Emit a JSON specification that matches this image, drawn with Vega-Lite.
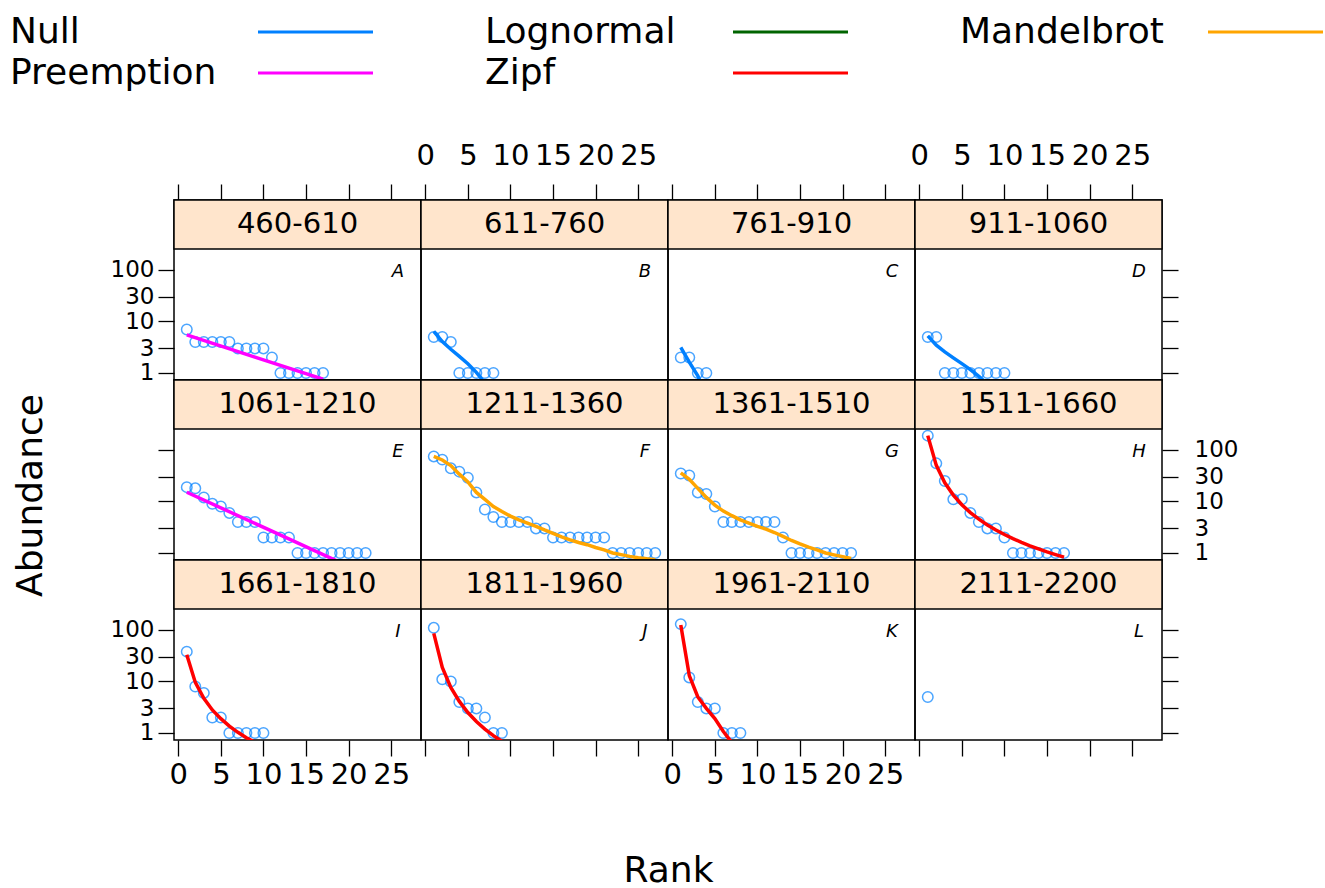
{
"$schema": "https://vega.github.io/schema/vega-lite/v6.json",
"padding": {"left": 10, "top": 14, "right": 0, "bottom": 0},
"background": "white",
"datasets": {
"panels": [
{"p":"A","range":"460-610"},{"p":"B","range":"611-760"},{"p":"C","range":"761-910"},{"p":"D","range":"911-1060"},
{"p":"E","range":"1061-1210"},{"p":"F","range":"1211-1360"},{"p":"G","range":"1361-1510"},{"p":"H","range":"1511-1660"},
{"p":"I","range":"1661-1810"},{"p":"J","range":"1811-1960"},{"p":"K","range":"1961-2110"},{"p":"L","range":"2111-2200"}],
"obs": [
{"p":"A","rank":1,"abundance":7},{"p":"A","rank":2,"abundance":4},{"p":"A","rank":3,"abundance":4},{"p":"A","rank":4,"abundance":4},{"p":"A","rank":5,"abundance":4},{"p":"A","rank":6,"abundance":4},{"p":"A","rank":7,"abundance":3},{"p":"A","rank":8,"abundance":3},{"p":"A","rank":9,"abundance":3},{"p":"A","rank":10,"abundance":3},{"p":"A","rank":11,"abundance":2},{"p":"A","rank":12,"abundance":1},{"p":"A","rank":13,"abundance":1},{"p":"A","rank":14,"abundance":1},{"p":"A","rank":15,"abundance":1},{"p":"A","rank":16,"abundance":1},{"p":"A","rank":17,"abundance":1},
{"p":"B","rank":1,"abundance":5},{"p":"B","rank":2,"abundance":5},{"p":"B","rank":3,"abundance":4},{"p":"B","rank":4,"abundance":1},{"p":"B","rank":5,"abundance":1},{"p":"B","rank":6,"abundance":1},{"p":"B","rank":7,"abundance":1},{"p":"B","rank":8,"abundance":1},
{"p":"C","rank":1,"abundance":2},{"p":"C","rank":2,"abundance":2},{"p":"C","rank":3,"abundance":1},{"p":"C","rank":4,"abundance":1},
{"p":"D","rank":1,"abundance":5},{"p":"D","rank":2,"abundance":5},{"p":"D","rank":3,"abundance":1},{"p":"D","rank":4,"abundance":1},{"p":"D","rank":5,"abundance":1},{"p":"D","rank":6,"abundance":1},{"p":"D","rank":7,"abundance":1},{"p":"D","rank":8,"abundance":1},{"p":"D","rank":9,"abundance":1},{"p":"D","rank":10,"abundance":1},
{"p":"E","rank":1,"abundance":19},{"p":"E","rank":2,"abundance":18},{"p":"E","rank":3,"abundance":12},{"p":"E","rank":4,"abundance":9},{"p":"E","rank":5,"abundance":8},{"p":"E","rank":6,"abundance":6},{"p":"E","rank":7,"abundance":4},{"p":"E","rank":8,"abundance":4},{"p":"E","rank":9,"abundance":4},{"p":"E","rank":10,"abundance":2},{"p":"E","rank":11,"abundance":2},{"p":"E","rank":12,"abundance":2},{"p":"E","rank":13,"abundance":2},{"p":"E","rank":14,"abundance":1},{"p":"E","rank":15,"abundance":1},{"p":"E","rank":16,"abundance":1},{"p":"E","rank":17,"abundance":1},{"p":"E","rank":18,"abundance":1},{"p":"E","rank":19,"abundance":1},{"p":"E","rank":20,"abundance":1},{"p":"E","rank":21,"abundance":1},{"p":"E","rank":22,"abundance":1},
{"p":"F","rank":1,"abundance":75},{"p":"F","rank":2,"abundance":65},{"p":"F","rank":3,"abundance":44},{"p":"F","rank":4,"abundance":38},{"p":"F","rank":5,"abundance":29},{"p":"F","rank":6,"abundance":15},{"p":"F","rank":7,"abundance":7},{"p":"F","rank":8,"abundance":5},{"p":"F","rank":9,"abundance":4},{"p":"F","rank":10,"abundance":4},{"p":"F","rank":11,"abundance":4},{"p":"F","rank":12,"abundance":4},{"p":"F","rank":13,"abundance":3},{"p":"F","rank":14,"abundance":3},{"p":"F","rank":15,"abundance":2},{"p":"F","rank":16,"abundance":2},{"p":"F","rank":17,"abundance":2},{"p":"F","rank":18,"abundance":2},{"p":"F","rank":19,"abundance":2},{"p":"F","rank":20,"abundance":2},{"p":"F","rank":21,"abundance":2},{"p":"F","rank":22,"abundance":1},{"p":"F","rank":23,"abundance":1},{"p":"F","rank":24,"abundance":1},{"p":"F","rank":25,"abundance":1},{"p":"F","rank":26,"abundance":1},{"p":"F","rank":27,"abundance":1},
{"p":"G","rank":1,"abundance":35},{"p":"G","rank":2,"abundance":32},{"p":"G","rank":3,"abundance":15},{"p":"G","rank":4,"abundance":14},{"p":"G","rank":5,"abundance":8},{"p":"G","rank":6,"abundance":4},{"p":"G","rank":7,"abundance":4},{"p":"G","rank":8,"abundance":4},{"p":"G","rank":9,"abundance":4},{"p":"G","rank":10,"abundance":4},{"p":"G","rank":11,"abundance":4},{"p":"G","rank":12,"abundance":4},{"p":"G","rank":13,"abundance":2},{"p":"G","rank":14,"abundance":1},{"p":"G","rank":15,"abundance":1},{"p":"G","rank":16,"abundance":1},{"p":"G","rank":17,"abundance":1},{"p":"G","rank":18,"abundance":1},{"p":"G","rank":19,"abundance":1},{"p":"G","rank":20,"abundance":1},{"p":"G","rank":21,"abundance":1},
{"p":"H","rank":1,"abundance":190},{"p":"H","rank":2,"abundance":55},{"p":"H","rank":3,"abundance":25},{"p":"H","rank":4,"abundance":11},{"p":"H","rank":5,"abundance":11},{"p":"H","rank":6,"abundance":6},{"p":"H","rank":7,"abundance":4},{"p":"H","rank":8,"abundance":3},{"p":"H","rank":9,"abundance":3},{"p":"H","rank":10,"abundance":2},{"p":"H","rank":11,"abundance":1},{"p":"H","rank":12,"abundance":1},{"p":"H","rank":13,"abundance":1},{"p":"H","rank":14,"abundance":1},{"p":"H","rank":15,"abundance":1},{"p":"H","rank":16,"abundance":1},{"p":"H","rank":17,"abundance":1},
{"p":"I","rank":1,"abundance":38},{"p":"I","rank":2,"abundance":8},{"p":"I","rank":3,"abundance":6},{"p":"I","rank":4,"abundance":2},{"p":"I","rank":5,"abundance":2},{"p":"I","rank":6,"abundance":1},{"p":"I","rank":7,"abundance":1},{"p":"I","rank":8,"abundance":1},{"p":"I","rank":9,"abundance":1},{"p":"I","rank":10,"abundance":1},
{"p":"J","rank":1,"abundance":110},{"p":"J","rank":2,"abundance":11},{"p":"J","rank":3,"abundance":10},{"p":"J","rank":4,"abundance":4},{"p":"J","rank":5,"abundance":3},{"p":"J","rank":6,"abundance":3},{"p":"J","rank":7,"abundance":2},{"p":"J","rank":8,"abundance":1},{"p":"J","rank":9,"abundance":1},
{"p":"K","rank":1,"abundance":130},{"p":"K","rank":2,"abundance":12},{"p":"K","rank":3,"abundance":4},{"p":"K","rank":4,"abundance":3},{"p":"K","rank":5,"abundance":3},{"p":"K","rank":6,"abundance":1},{"p":"K","rank":7,"abundance":1},{"p":"K","rank":8,"abundance":1},
{"p":"L","rank":1,"abundance":5}],
"fit": [
{"p":"A","model":"Preemption","rank":1,"fitted":5.5},{"p":"A","model":"Preemption","rank":9,"fitted":2.04},{"p":"A","model":"Preemption","rank":17,"fitted":0.76},
{"p":"B","model":"Null","rank":1,"fitted":6.45},{"p":"B","model":"Null","rank":2,"fitted":4.08},{"p":"B","model":"Null","rank":3,"fitted":2.89},{"p":"B","model":"Null","rank":4,"fitted":2.1},{"p":"B","model":"Null","rank":5,"fitted":1.51},{"p":"B","model":"Null","rank":6,"fitted":1.03},{"p":"B","model":"Null","rank":7,"fitted":0.64},{"p":"B","model":"Null","rank":8,"fitted":0.3},
{"p":"C","model":"Null","rank":1,"fitted":3.13},{"p":"C","model":"Null","rank":2,"fitted":1.63},{"p":"C","model":"Null","rank":3,"fitted":0.88},{"p":"C","model":"Null","rank":4,"fitted":0.38},
{"p":"D","model":"Null","rank":1,"fitted":5.27},{"p":"D","model":"Null","rank":2,"fitted":3.47},{"p":"D","model":"Null","rank":3,"fitted":2.57},{"p":"D","model":"Null","rank":4,"fitted":1.97},{"p":"D","model":"Null","rank":5,"fitted":1.52},{"p":"D","model":"Null","rank":6,"fitted":1.16},{"p":"D","model":"Null","rank":7,"fitted":0.86},{"p":"D","model":"Null","rank":8,"fitted":0.61},{"p":"D","model":"Null","rank":9,"fitted":0.38},{"p":"D","model":"Null","rank":10,"fitted":0.18},
{"p":"E","model":"Preemption","rank":1,"fitted":15.1},{"p":"E","model":"Preemption","rank":11,"fitted":2.65},{"p":"E","model":"Preemption","rank":22,"fitted":0.39},
{"p":"F","model":"Mandelbrot","rank":1,"fitted":75},{"p":"F","model":"Mandelbrot","rank":2,"fitted":64},{"p":"F","model":"Mandelbrot","rank":3,"fitted":50},{"p":"F","model":"Mandelbrot","rank":4,"fitted":34},{"p":"F","model":"Mandelbrot","rank":5,"fitted":24},{"p":"F","model":"Mandelbrot","rank":6,"fitted":15},{"p":"F","model":"Mandelbrot","rank":7,"fitted":11},{"p":"F","model":"Mandelbrot","rank":8,"fitted":8},{"p":"F","model":"Mandelbrot","rank":9,"fitted":6.4},{"p":"F","model":"Mandelbrot","rank":10,"fitted":5.2},{"p":"F","model":"Mandelbrot","rank":11,"fitted":4.4},{"p":"F","model":"Mandelbrot","rank":12,"fitted":3.8},{"p":"F","model":"Mandelbrot","rank":13,"fitted":3.3},{"p":"F","model":"Mandelbrot","rank":14,"fitted":2.8},{"p":"F","model":"Mandelbrot","rank":15,"fitted":2.4},{"p":"F","model":"Mandelbrot","rank":16,"fitted":2.05},{"p":"F","model":"Mandelbrot","rank":17,"fitted":1.8},{"p":"F","model":"Mandelbrot","rank":18,"fitted":1.6},{"p":"F","model":"Mandelbrot","rank":19,"fitted":1.45},{"p":"F","model":"Mandelbrot","rank":20,"fitted":1.28},{"p":"F","model":"Mandelbrot","rank":21,"fitted":1.15},{"p":"F","model":"Mandelbrot","rank":22,"fitted":1.0},{"p":"F","model":"Mandelbrot","rank":23,"fitted":0.93},{"p":"F","model":"Mandelbrot","rank":24,"fitted":0.86},{"p":"F","model":"Mandelbrot","rank":25,"fitted":0.81},{"p":"F","model":"Mandelbrot","rank":26,"fitted":0.77},{"p":"F","model":"Mandelbrot","rank":27,"fitted":0.74},
{"p":"G","model":"Mandelbrot","rank":1,"fitted":36},{"p":"G","model":"Mandelbrot","rank":2,"fitted":27},{"p":"G","model":"Mandelbrot","rank":3,"fitted":18},{"p":"G","model":"Mandelbrot","rank":4,"fitted":12},{"p":"G","model":"Mandelbrot","rank":5,"fitted":8.5},{"p":"G","model":"Mandelbrot","rank":6,"fitted":6.5},{"p":"G","model":"Mandelbrot","rank":7,"fitted":5.3},{"p":"G","model":"Mandelbrot","rank":8,"fitted":4.4},{"p":"G","model":"Mandelbrot","rank":9,"fitted":3.8},{"p":"G","model":"Mandelbrot","rank":10,"fitted":3.3},{"p":"G","model":"Mandelbrot","rank":11,"fitted":2.9},{"p":"G","model":"Mandelbrot","rank":12,"fitted":2.5},{"p":"G","model":"Mandelbrot","rank":13,"fitted":2.1},{"p":"G","model":"Mandelbrot","rank":14,"fitted":1.75},{"p":"G","model":"Mandelbrot","rank":15,"fitted":1.5},{"p":"G","model":"Mandelbrot","rank":16,"fitted":1.3},{"p":"G","model":"Mandelbrot","rank":17,"fitted":1.15},{"p":"G","model":"Mandelbrot","rank":18,"fitted":1.0},{"p":"G","model":"Mandelbrot","rank":19,"fitted":0.92},{"p":"G","model":"Mandelbrot","rank":20,"fitted":0.85},{"p":"G","model":"Mandelbrot","rank":21,"fitted":0.78},
{"p":"H","model":"Zipf","rank":1,"fitted":190},{"p":"H","model":"Zipf","rank":2,"fitted":50.3},{"p":"H","model":"Zipf","rank":3,"fitted":23.1},{"p":"H","model":"Zipf","rank":4,"fitted":13.3},{"p":"H","model":"Zipf","rank":5,"fitted":8.64},{"p":"H","model":"Zipf","rank":6,"fitted":6.09},{"p":"H","model":"Zipf","rank":7,"fitted":4.53},{"p":"H","model":"Zipf","rank":8,"fitted":3.51},{"p":"H","model":"Zipf","rank":9,"fitted":2.79},{"p":"H","model":"Zipf","rank":10,"fitted":2.28},{"p":"H","model":"Zipf","rank":11,"fitted":1.9},{"p":"H","model":"Zipf","rank":12,"fitted":1.61},{"p":"H","model":"Zipf","rank":13,"fitted":1.38},{"p":"H","model":"Zipf","rank":14,"fitted":1.2},{"p":"H","model":"Zipf","rank":15,"fitted":1.05},{"p":"H","model":"Zipf","rank":16,"fitted":0.93},{"p":"H","model":"Zipf","rank":17,"fitted":0.83},
{"p":"I","model":"Zipf","rank":1,"fitted":33},{"p":"I","model":"Zipf","rank":2,"fitted":9.6},{"p":"I","model":"Zipf","rank":3,"fitted":4.7},{"p":"I","model":"Zipf","rank":4,"fitted":2.8},{"p":"I","model":"Zipf","rank":5,"fitted":1.9},{"p":"I","model":"Zipf","rank":6,"fitted":1.36},{"p":"I","model":"Zipf","rank":7,"fitted":1.03},{"p":"I","model":"Zipf","rank":8,"fitted":0.81},{"p":"I","model":"Zipf","rank":9,"fitted":0.66},{"p":"I","model":"Zipf","rank":10,"fitted":0.55},
{"p":"J","model":"Zipf","rank":1,"fitted":86},{"p":"J","model":"Zipf","rank":2,"fitted":18.7},{"p":"J","model":"Zipf","rank":3,"fitted":7.7},{"p":"J","model":"Zipf","rank":4,"fitted":4.1},{"p":"J","model":"Zipf","rank":5,"fitted":2.5},{"p":"J","model":"Zipf","rank":6,"fitted":1.67},{"p":"J","model":"Zipf","rank":7,"fitted":1.19},{"p":"J","model":"Zipf","rank":8,"fitted":0.89},{"p":"J","model":"Zipf","rank":9,"fitted":0.69},
{"p":"K","model":"Zipf","rank":1,"fitted":125},{"p":"K","model":"Zipf","rank":2,"fitted":13},{"p":"K","model":"Zipf","rank":3,"fitted":5},{"p":"K","model":"Zipf","rank":4,"fitted":3},{"p":"K","model":"Zipf","rank":5,"fitted":1.9},{"p":"K","model":"Zipf","rank":6,"fitted":1.07},{"p":"K","model":"Zipf","rank":7,"fitted":0.65},{"p":"K","model":"Zipf","rank":8,"fitted":0.45}]
},
"columns": 4,
"spacing": 0,
"bounds": "flush",
"resolve": {"scale": {"x": "independent", "y": "independent", "color": "shared"}, "axis": {"x": "independent", "y": "independent"}, "legend": {"color": "shared"}},
"concat": [
{"width":247,"height":180,"layer":[
 {"data":{"name":"obs"},"transform":[{"filter":"datum.p==='A'"}],"mark":{"type":"point","shape":"circle","filled":false,"color":"#0080ff","size":110,"strokeWidth":1.5,"clip":true},"encoding":{"x":{"field":"rank","type":"quantitative","scale":{"type":"linear","domain":[-0.5,28.5],"nice":false,"zero":false},"axis":{"orient":"top","values":[0,5,10,15,20,25],"labels":false,"title":null}},"y":{"field":"abundance","type":"quantitative","scale":{"type":"log","domain":[0.731,2286],"nice":false},"axis":{"orient":"left","values":[1,3,10,30,100],"format":"d","title":null,"labelPadding":4}}}},
 {"data":{"name":"panels"},"transform":[{"filter":"datum.p==='A'"}],"mark":{"type":"rect","fill":"#ffe5cc","stroke":"black","strokeWidth":1.5},"encoding":{"x":{"value":0},"x2":{"value":"width"},"y":{"datum":256,"type":"quantitative"},"y2":{"datum":2286}}},
 {"data":{"name":"panels"},"transform":[{"filter":"datum.p==='A'"}],"mark":{"type":"text","font":"DejaVu Sans","fontSize":29,"color":"black"},"encoding":{"x":{"datum":14,"type":"quantitative"},"y":{"datum":765,"type":"quantitative"},"text":{"field":"range"}}},
 {"data":{"name":"panels"},"transform":[{"filter":"datum.p==='A'"}],"mark":{"type":"text","font":"DejaVu Sans","fontSize":18,"fontStyle":"italic","color":"black"},"encoding":{"x":{"datum":25.8,"type":"quantitative"},"y":{"datum":92,"type":"quantitative"},"text":{"field":"p"}}},
 {"data":{"name":"fit"},"transform":[{"filter":"datum.p==='A'"}],"mark":{"type":"line","strokeWidth":3.5,"clip":true},"encoding":{"x":{"field":"rank","type":"quantitative"},"y":{"field":"fitted","type":"quantitative"},"color":{"field":"model","type":"nominal","scale":{"domain":["Null","Preemption","Lognormal","Zipf","Mandelbrot"],"range":["#0080ff","#ff00ff","#006400","#ff0000","#ffa500"]},"legend":{"title":null,"symbolType":"M-5,0H5"}}}}
]},
{"width":247,"height":180,"layer":[
 {"data":{"name":"obs"},"transform":[{"filter":"datum.p==='B'"}],"mark":{"type":"point","shape":"circle","filled":false,"color":"#0080ff","size":110,"strokeWidth":1.5,"clip":true},"encoding":{"x":{"field":"rank","type":"quantitative","scale":{"type":"linear","domain":[-0.5,28.5],"nice":false,"zero":false},"axis":{"orient":"top","values":[0,5,10,15,20,25],"title":null,"labelPadding":14}},"y":{"field":"abundance","type":"quantitative","scale":{"type":"log","domain":[0.731,2286],"nice":false},"axis":null}}},
 {"data":{"name":"panels"},"transform":[{"filter":"datum.p==='B'"}],"mark":{"type":"rect","fill":"#ffe5cc","stroke":"black","strokeWidth":1.5},"encoding":{"x":{"value":0},"x2":{"value":"width"},"y":{"datum":256,"type":"quantitative"},"y2":{"datum":2286}}},
 {"data":{"name":"panels"},"transform":[{"filter":"datum.p==='B'"}],"mark":{"type":"text","font":"DejaVu Sans","fontSize":29,"color":"black"},"encoding":{"x":{"datum":14,"type":"quantitative"},"y":{"datum":765,"type":"quantitative"},"text":{"field":"range"}}},
 {"data":{"name":"panels"},"transform":[{"filter":"datum.p==='B'"}],"mark":{"type":"text","font":"DejaVu Sans","fontSize":18,"fontStyle":"italic","color":"black"},"encoding":{"x":{"datum":25.8,"type":"quantitative"},"y":{"datum":92,"type":"quantitative"},"text":{"field":"p"}}},
 {"data":{"name":"fit"},"transform":[{"filter":"datum.p==='B'"}],"mark":{"type":"line","strokeWidth":3.5,"clip":true},"encoding":{"x":{"field":"rank","type":"quantitative"},"y":{"field":"fitted","type":"quantitative"},"color":{"field":"model","type":"nominal","scale":{"domain":["Null","Preemption","Lognormal","Zipf","Mandelbrot"],"range":["#0080ff","#ff00ff","#006400","#ff0000","#ffa500"]},"legend":{"title":null,"symbolType":"M-5,0H5"}}}}
]},
{"width":247,"height":180,"layer":[
 {"data":{"name":"obs"},"transform":[{"filter":"datum.p==='C'"}],"mark":{"type":"point","shape":"circle","filled":false,"color":"#0080ff","size":110,"strokeWidth":1.5,"clip":true},"encoding":{"x":{"field":"rank","type":"quantitative","scale":{"type":"linear","domain":[-0.5,28.5],"nice":false,"zero":false},"axis":{"orient":"top","values":[0,5,10,15,20,25],"labels":false,"title":null}},"y":{"field":"abundance","type":"quantitative","scale":{"type":"log","domain":[0.731,2286],"nice":false},"axis":null}}},
 {"data":{"name":"panels"},"transform":[{"filter":"datum.p==='C'"}],"mark":{"type":"rect","fill":"#ffe5cc","stroke":"black","strokeWidth":1.5},"encoding":{"x":{"value":0},"x2":{"value":"width"},"y":{"datum":256,"type":"quantitative"},"y2":{"datum":2286}}},
 {"data":{"name":"panels"},"transform":[{"filter":"datum.p==='C'"}],"mark":{"type":"text","font":"DejaVu Sans","fontSize":29,"color":"black"},"encoding":{"x":{"datum":14,"type":"quantitative"},"y":{"datum":765,"type":"quantitative"},"text":{"field":"range"}}},
 {"data":{"name":"panels"},"transform":[{"filter":"datum.p==='C'"}],"mark":{"type":"text","font":"DejaVu Sans","fontSize":18,"fontStyle":"italic","color":"black"},"encoding":{"x":{"datum":25.8,"type":"quantitative"},"y":{"datum":92,"type":"quantitative"},"text":{"field":"p"}}},
 {"data":{"name":"fit"},"transform":[{"filter":"datum.p==='C'"}],"mark":{"type":"line","strokeWidth":3.5,"clip":true},"encoding":{"x":{"field":"rank","type":"quantitative"},"y":{"field":"fitted","type":"quantitative"},"color":{"field":"model","type":"nominal","scale":{"domain":["Null","Preemption","Lognormal","Zipf","Mandelbrot"],"range":["#0080ff","#ff00ff","#006400","#ff0000","#ffa500"]},"legend":{"title":null,"symbolType":"M-5,0H5"}}}}
]},
{"width":247,"height":180,"layer":[
 {"data":{"name":"obs"},"transform":[{"filter":"datum.p==='D'"}],"mark":{"type":"point","shape":"circle","filled":false,"color":"#0080ff","size":110,"strokeWidth":1.5,"clip":true},"encoding":{"x":{"field":"rank","type":"quantitative","scale":{"type":"linear","domain":[-0.5,28.5],"nice":false,"zero":false},"axis":{"orient":"top","values":[0,5,10,15,20,25],"title":null,"labelPadding":14}},"y":{"field":"abundance","type":"quantitative","scale":{"type":"log","domain":[0.731,2286],"nice":false},"axis":{"orient":"right","values":[1,3,10,30,100],"labels":false,"title":null}}}},
 {"data":{"name":"panels"},"transform":[{"filter":"datum.p==='D'"}],"mark":{"type":"rect","fill":"#ffe5cc","stroke":"black","strokeWidth":1.5},"encoding":{"x":{"value":0},"x2":{"value":"width"},"y":{"datum":256,"type":"quantitative"},"y2":{"datum":2286}}},
 {"data":{"name":"panels"},"transform":[{"filter":"datum.p==='D'"}],"mark":{"type":"text","font":"DejaVu Sans","fontSize":29,"color":"black"},"encoding":{"x":{"datum":14,"type":"quantitative"},"y":{"datum":765,"type":"quantitative"},"text":{"field":"range"}}},
 {"data":{"name":"panels"},"transform":[{"filter":"datum.p==='D'"}],"mark":{"type":"text","font":"DejaVu Sans","fontSize":18,"fontStyle":"italic","color":"black"},"encoding":{"x":{"datum":25.8,"type":"quantitative"},"y":{"datum":92,"type":"quantitative"},"text":{"field":"p"}}},
 {"data":{"name":"fit"},"transform":[{"filter":"datum.p==='D'"}],"mark":{"type":"line","strokeWidth":3.5,"clip":true},"encoding":{"x":{"field":"rank","type":"quantitative"},"y":{"field":"fitted","type":"quantitative"},"color":{"field":"model","type":"nominal","scale":{"domain":["Null","Preemption","Lognormal","Zipf","Mandelbrot"],"range":["#0080ff","#ff00ff","#006400","#ff0000","#ffa500"]},"legend":{"title":null,"symbolType":"M-5,0H5"}}}}
]},
{"width":247,"height":180,"layer":[
 {"data":{"name":"obs"},"transform":[{"filter":"datum.p==='E'"}],"mark":{"type":"point","shape":"circle","filled":false,"color":"#0080ff","size":110,"strokeWidth":1.5,"clip":true},"encoding":{"x":{"field":"rank","type":"quantitative","scale":{"type":"linear","domain":[-0.5,28.5],"nice":false,"zero":false},"axis":null},"y":{"field":"abundance","type":"quantitative","scale":{"type":"log","domain":[0.731,2286],"nice":false},"axis":{"orient":"left","values":[1,3,10,30,100],"labels":false,"title":"Abundance","titleX":-144,"titleY":115,"titleAngle":270,"titleBaseline":"middle","titleAlign":"center"}}}},
 {"data":{"name":"panels"},"transform":[{"filter":"datum.p==='E'"}],"mark":{"type":"rect","fill":"#ffe5cc","stroke":"black","strokeWidth":1.5},"encoding":{"x":{"value":0},"x2":{"value":"width"},"y":{"datum":256,"type":"quantitative"},"y2":{"datum":2286}}},
 {"data":{"name":"panels"},"transform":[{"filter":"datum.p==='E'"}],"mark":{"type":"text","font":"DejaVu Sans","fontSize":29,"color":"black"},"encoding":{"x":{"datum":14,"type":"quantitative"},"y":{"datum":765,"type":"quantitative"},"text":{"field":"range"}}},
 {"data":{"name":"panels"},"transform":[{"filter":"datum.p==='E'"}],"mark":{"type":"text","font":"DejaVu Sans","fontSize":18,"fontStyle":"italic","color":"black"},"encoding":{"x":{"datum":25.8,"type":"quantitative"},"y":{"datum":92,"type":"quantitative"},"text":{"field":"p"}}},
 {"data":{"name":"fit"},"transform":[{"filter":"datum.p==='E'"}],"mark":{"type":"line","strokeWidth":3.5,"clip":true},"encoding":{"x":{"field":"rank","type":"quantitative"},"y":{"field":"fitted","type":"quantitative"},"color":{"field":"model","type":"nominal","scale":{"domain":["Null","Preemption","Lognormal","Zipf","Mandelbrot"],"range":["#0080ff","#ff00ff","#006400","#ff0000","#ffa500"]},"legend":{"title":null,"symbolType":"M-5,0H5"}}}}
]},
{"width":247,"height":180,"layer":[
 {"data":{"name":"obs"},"transform":[{"filter":"datum.p==='F'"}],"mark":{"type":"point","shape":"circle","filled":false,"color":"#0080ff","size":110,"strokeWidth":1.5,"clip":true},"encoding":{"x":{"field":"rank","type":"quantitative","scale":{"type":"linear","domain":[-0.5,28.5],"nice":false,"zero":false},"axis":null},"y":{"field":"abundance","type":"quantitative","scale":{"type":"log","domain":[0.731,2286],"nice":false},"axis":null}}},
 {"data":{"name":"panels"},"transform":[{"filter":"datum.p==='F'"}],"mark":{"type":"rect","fill":"#ffe5cc","stroke":"black","strokeWidth":1.5},"encoding":{"x":{"value":0},"x2":{"value":"width"},"y":{"datum":256,"type":"quantitative"},"y2":{"datum":2286}}},
 {"data":{"name":"panels"},"transform":[{"filter":"datum.p==='F'"}],"mark":{"type":"text","font":"DejaVu Sans","fontSize":29,"color":"black"},"encoding":{"x":{"datum":14,"type":"quantitative"},"y":{"datum":765,"type":"quantitative"},"text":{"field":"range"}}},
 {"data":{"name":"panels"},"transform":[{"filter":"datum.p==='F'"}],"mark":{"type":"text","font":"DejaVu Sans","fontSize":18,"fontStyle":"italic","color":"black"},"encoding":{"x":{"datum":25.8,"type":"quantitative"},"y":{"datum":92,"type":"quantitative"},"text":{"field":"p"}}},
 {"data":{"name":"fit"},"transform":[{"filter":"datum.p==='F'"}],"mark":{"type":"line","strokeWidth":3.5,"clip":true},"encoding":{"x":{"field":"rank","type":"quantitative"},"y":{"field":"fitted","type":"quantitative"},"color":{"field":"model","type":"nominal","scale":{"domain":["Null","Preemption","Lognormal","Zipf","Mandelbrot"],"range":["#0080ff","#ff00ff","#006400","#ff0000","#ffa500"]},"legend":{"title":null,"symbolType":"M-5,0H5"}}}}
]},
{"width":247,"height":180,"layer":[
 {"data":{"name":"obs"},"transform":[{"filter":"datum.p==='G'"}],"mark":{"type":"point","shape":"circle","filled":false,"color":"#0080ff","size":110,"strokeWidth":1.5,"clip":true},"encoding":{"x":{"field":"rank","type":"quantitative","scale":{"type":"linear","domain":[-0.5,28.5],"nice":false,"zero":false},"axis":null},"y":{"field":"abundance","type":"quantitative","scale":{"type":"log","domain":[0.731,2286],"nice":false},"axis":null}}},
 {"data":{"name":"panels"},"transform":[{"filter":"datum.p==='G'"}],"mark":{"type":"rect","fill":"#ffe5cc","stroke":"black","strokeWidth":1.5},"encoding":{"x":{"value":0},"x2":{"value":"width"},"y":{"datum":256,"type":"quantitative"},"y2":{"datum":2286}}},
 {"data":{"name":"panels"},"transform":[{"filter":"datum.p==='G'"}],"mark":{"type":"text","font":"DejaVu Sans","fontSize":29,"color":"black"},"encoding":{"x":{"datum":14,"type":"quantitative"},"y":{"datum":765,"type":"quantitative"},"text":{"field":"range"}}},
 {"data":{"name":"panels"},"transform":[{"filter":"datum.p==='G'"}],"mark":{"type":"text","font":"DejaVu Sans","fontSize":18,"fontStyle":"italic","color":"black"},"encoding":{"x":{"datum":25.8,"type":"quantitative"},"y":{"datum":92,"type":"quantitative"},"text":{"field":"p"}}},
 {"data":{"name":"fit"},"transform":[{"filter":"datum.p==='G'"}],"mark":{"type":"line","strokeWidth":3.5,"clip":true},"encoding":{"x":{"field":"rank","type":"quantitative"},"y":{"field":"fitted","type":"quantitative"},"color":{"field":"model","type":"nominal","scale":{"domain":["Null","Preemption","Lognormal","Zipf","Mandelbrot"],"range":["#0080ff","#ff00ff","#006400","#ff0000","#ffa500"]},"legend":{"title":null,"symbolType":"M-5,0H5"}}}}
]},
{"width":247,"height":180,"layer":[
 {"data":{"name":"obs"},"transform":[{"filter":"datum.p==='H'"}],"mark":{"type":"point","shape":"circle","filled":false,"color":"#0080ff","size":110,"strokeWidth":1.5,"clip":true},"encoding":{"x":{"field":"rank","type":"quantitative","scale":{"type":"linear","domain":[-0.5,28.5],"nice":false,"zero":false},"axis":null},"y":{"field":"abundance","type":"quantitative","scale":{"type":"log","domain":[0.731,2286],"nice":false},"axis":{"orient":"right","values":[1,3,10,30,100],"format":"d","title":null,"labelPadding":16}}}},
 {"data":{"name":"panels"},"transform":[{"filter":"datum.p==='H'"}],"mark":{"type":"rect","fill":"#ffe5cc","stroke":"black","strokeWidth":1.5},"encoding":{"x":{"value":0},"x2":{"value":"width"},"y":{"datum":256,"type":"quantitative"},"y2":{"datum":2286}}},
 {"data":{"name":"panels"},"transform":[{"filter":"datum.p==='H'"}],"mark":{"type":"text","font":"DejaVu Sans","fontSize":29,"color":"black"},"encoding":{"x":{"datum":14,"type":"quantitative"},"y":{"datum":765,"type":"quantitative"},"text":{"field":"range"}}},
 {"data":{"name":"panels"},"transform":[{"filter":"datum.p==='H'"}],"mark":{"type":"text","font":"DejaVu Sans","fontSize":18,"fontStyle":"italic","color":"black"},"encoding":{"x":{"datum":25.8,"type":"quantitative"},"y":{"datum":92,"type":"quantitative"},"text":{"field":"p"}}},
 {"data":{"name":"fit"},"transform":[{"filter":"datum.p==='H'"}],"mark":{"type":"line","strokeWidth":3.5,"clip":true},"encoding":{"x":{"field":"rank","type":"quantitative"},"y":{"field":"fitted","type":"quantitative"},"color":{"field":"model","type":"nominal","scale":{"domain":["Null","Preemption","Lognormal","Zipf","Mandelbrot"],"range":["#0080ff","#ff00ff","#006400","#ff0000","#ffa500"]},"legend":{"title":null,"symbolType":"M-5,0H5"}}}}
]},
{"width":247,"height":180,"layer":[
 {"data":{"name":"obs"},"transform":[{"filter":"datum.p==='I'"}],"mark":{"type":"point","shape":"circle","filled":false,"color":"#0080ff","size":110,"strokeWidth":1.5,"clip":true},"encoding":{"x":{"field":"rank","type":"quantitative","scale":{"type":"linear","domain":[-0.5,28.5],"nice":false,"zero":false},"axis":{"orient":"bottom","values":[0,5,10,15,20,25],"title":null,"labelPadding":4}},"y":{"field":"abundance","type":"quantitative","scale":{"type":"log","domain":[0.731,2286],"nice":false},"axis":{"orient":"left","values":[1,3,10,30,100],"format":"d","title":null,"labelPadding":4}}}},
 {"data":{"name":"panels"},"transform":[{"filter":"datum.p==='I'"}],"mark":{"type":"rect","fill":"#ffe5cc","stroke":"black","strokeWidth":1.5},"encoding":{"x":{"value":0},"x2":{"value":"width"},"y":{"datum":256,"type":"quantitative"},"y2":{"datum":2286}}},
 {"data":{"name":"panels"},"transform":[{"filter":"datum.p==='I'"}],"mark":{"type":"text","font":"DejaVu Sans","fontSize":29,"color":"black"},"encoding":{"x":{"datum":14,"type":"quantitative"},"y":{"datum":765,"type":"quantitative"},"text":{"field":"range"}}},
 {"data":{"name":"panels"},"transform":[{"filter":"datum.p==='I'"}],"mark":{"type":"text","font":"DejaVu Sans","fontSize":18,"fontStyle":"italic","color":"black"},"encoding":{"x":{"datum":25.8,"type":"quantitative"},"y":{"datum":92,"type":"quantitative"},"text":{"field":"p"}}},
 {"data":{"name":"fit"},"transform":[{"filter":"datum.p==='I'"}],"mark":{"type":"line","strokeWidth":3.5,"clip":true},"encoding":{"x":{"field":"rank","type":"quantitative"},"y":{"field":"fitted","type":"quantitative"},"color":{"field":"model","type":"nominal","scale":{"domain":["Null","Preemption","Lognormal","Zipf","Mandelbrot"],"range":["#0080ff","#ff00ff","#006400","#ff0000","#ffa500"]},"legend":{"title":null,"symbolType":"M-5,0H5"}}}}
]},
{"width":247,"height":180,"layer":[
 {"data":{"name":"obs"},"transform":[{"filter":"datum.p==='J'"}],"mark":{"type":"point","shape":"circle","filled":false,"color":"#0080ff","size":110,"strokeWidth":1.5,"clip":true},"encoding":{"x":{"field":"rank","type":"quantitative","scale":{"type":"linear","domain":[-0.5,28.5],"nice":false,"zero":false},"axis":{"orient":"bottom","values":[0,5,10,15,20,25],"labels":false,"title":null}},"y":{"field":"abundance","type":"quantitative","scale":{"type":"log","domain":[0.731,2286],"nice":false},"axis":null}}},
 {"data":{"name":"panels"},"transform":[{"filter":"datum.p==='J'"}],"mark":{"type":"rect","fill":"#ffe5cc","stroke":"black","strokeWidth":1.5},"encoding":{"x":{"value":0},"x2":{"value":"width"},"y":{"datum":256,"type":"quantitative"},"y2":{"datum":2286}}},
 {"data":{"name":"panels"},"transform":[{"filter":"datum.p==='J'"}],"mark":{"type":"text","font":"DejaVu Sans","fontSize":29,"color":"black"},"encoding":{"x":{"datum":14,"type":"quantitative"},"y":{"datum":765,"type":"quantitative"},"text":{"field":"range"}}},
 {"data":{"name":"panels"},"transform":[{"filter":"datum.p==='J'"}],"mark":{"type":"text","font":"DejaVu Sans","fontSize":18,"fontStyle":"italic","color":"black"},"encoding":{"x":{"datum":25.8,"type":"quantitative"},"y":{"datum":92,"type":"quantitative"},"text":{"field":"p"}}},
 {"data":{"name":"fit"},"transform":[{"filter":"datum.p==='J'"}],"mark":{"type":"line","strokeWidth":3.5,"clip":true},"encoding":{"x":{"field":"rank","type":"quantitative"},"y":{"field":"fitted","type":"quantitative"},"color":{"field":"model","type":"nominal","scale":{"domain":["Null","Preemption","Lognormal","Zipf","Mandelbrot"],"range":["#0080ff","#ff00ff","#006400","#ff0000","#ffa500"]},"legend":{"title":null,"symbolType":"M-5,0H5"}}}}
]},
{"width":247,"height":180,"layer":[
 {"data":{"name":"obs"},"transform":[{"filter":"datum.p==='K'"}],"mark":{"type":"point","shape":"circle","filled":false,"color":"#0080ff","size":110,"strokeWidth":1.5,"clip":true},"encoding":{"x":{"field":"rank","type":"quantitative","scale":{"type":"linear","domain":[-0.5,28.5],"nice":false,"zero":false},"axis":{"orient":"bottom","values":[0,5,10,15,20,25],"title":"Rank","labelPadding":4,"titleX":0,"titleY":130,"titleBaseline":"middle","titleAlign":"center"}},"y":{"field":"abundance","type":"quantitative","scale":{"type":"log","domain":[0.731,2286],"nice":false},"axis":null}}},
 {"data":{"name":"panels"},"transform":[{"filter":"datum.p==='K'"}],"mark":{"type":"rect","fill":"#ffe5cc","stroke":"black","strokeWidth":1.5},"encoding":{"x":{"value":0},"x2":{"value":"width"},"y":{"datum":256,"type":"quantitative"},"y2":{"datum":2286}}},
 {"data":{"name":"panels"},"transform":[{"filter":"datum.p==='K'"}],"mark":{"type":"text","font":"DejaVu Sans","fontSize":29,"color":"black"},"encoding":{"x":{"datum":14,"type":"quantitative"},"y":{"datum":765,"type":"quantitative"},"text":{"field":"range"}}},
 {"data":{"name":"panels"},"transform":[{"filter":"datum.p==='K'"}],"mark":{"type":"text","font":"DejaVu Sans","fontSize":18,"fontStyle":"italic","color":"black"},"encoding":{"x":{"datum":25.8,"type":"quantitative"},"y":{"datum":92,"type":"quantitative"},"text":{"field":"p"}}},
 {"data":{"name":"fit"},"transform":[{"filter":"datum.p==='K'"}],"mark":{"type":"line","strokeWidth":3.5,"clip":true},"encoding":{"x":{"field":"rank","type":"quantitative"},"y":{"field":"fitted","type":"quantitative"},"color":{"field":"model","type":"nominal","scale":{"domain":["Null","Preemption","Lognormal","Zipf","Mandelbrot"],"range":["#0080ff","#ff00ff","#006400","#ff0000","#ffa500"]},"legend":{"title":null,"symbolType":"M-5,0H5"}}}}
]},
{"width":247,"height":180,"layer":[
 {"data":{"name":"obs"},"transform":[{"filter":"datum.p==='L'"}],"mark":{"type":"point","shape":"circle","filled":false,"color":"#0080ff","size":110,"strokeWidth":1.5,"clip":true},"encoding":{"x":{"field":"rank","type":"quantitative","scale":{"type":"linear","domain":[-0.5,28.5],"nice":false,"zero":false},"axis":{"orient":"bottom","values":[0,5,10,15,20,25],"labels":false,"title":null}},"y":{"field":"abundance","type":"quantitative","scale":{"type":"log","domain":[0.731,2286],"nice":false},"axis":{"orient":"right","values":[1,3,10,30,100],"labels":false,"title":null}}}},
 {"data":{"name":"panels"},"transform":[{"filter":"datum.p==='L'"}],"mark":{"type":"rect","fill":"#ffe5cc","stroke":"black","strokeWidth":1.5},"encoding":{"x":{"value":0},"x2":{"value":"width"},"y":{"datum":256,"type":"quantitative"},"y2":{"datum":2286}}},
 {"data":{"name":"panels"},"transform":[{"filter":"datum.p==='L'"}],"mark":{"type":"text","font":"DejaVu Sans","fontSize":29,"color":"black"},"encoding":{"x":{"datum":14,"type":"quantitative"},"y":{"datum":765,"type":"quantitative"},"text":{"field":"range"}}},
 {"data":{"name":"panels"},"transform":[{"filter":"datum.p==='L'"}],"mark":{"type":"text","font":"DejaVu Sans","fontSize":18,"fontStyle":"italic","color":"black"},"encoding":{"x":{"datum":25.8,"type":"quantitative"},"y":{"datum":92,"type":"quantitative"},"text":{"field":"p"}}}
]}
],
"config": {
 "font": "DejaVu Sans",
 "view": {"stroke": "black", "strokeWidth": 1.5},
 "axis": {"grid": false, "domain": false, "tickColor": "black", "tickWidth": 1.3, "tickSize": 16, "labelFont": "DejaVu Sans", "labelFontSize": 29, "labelColor": "black", "labelOverlap": false, "labelFlush": false, "labelBound": false, "titleFont": "DejaVu Sans", "titleFontSize": 36, "titleFontWeight": "normal", "titleColor": "black"},
 "axisY": {"labelFontSize": 23},
 "legend": {"orient": "none", "legendX": -164, "legendY": -186, "columns": 3, "symbolType": "M-5,0H5", "symbolSize": 529, "symbolStrokeWidth": 3, "symbolOffset": 287.5, "labelOffset": -323.5, "labelFont": "DejaVu Sans", "labelFontSize": 36, "labelColor": "black", "labelLimit": 400, "columnPadding": 106, "rowPadding": 5, "gridAlign": "all"}
}
}
